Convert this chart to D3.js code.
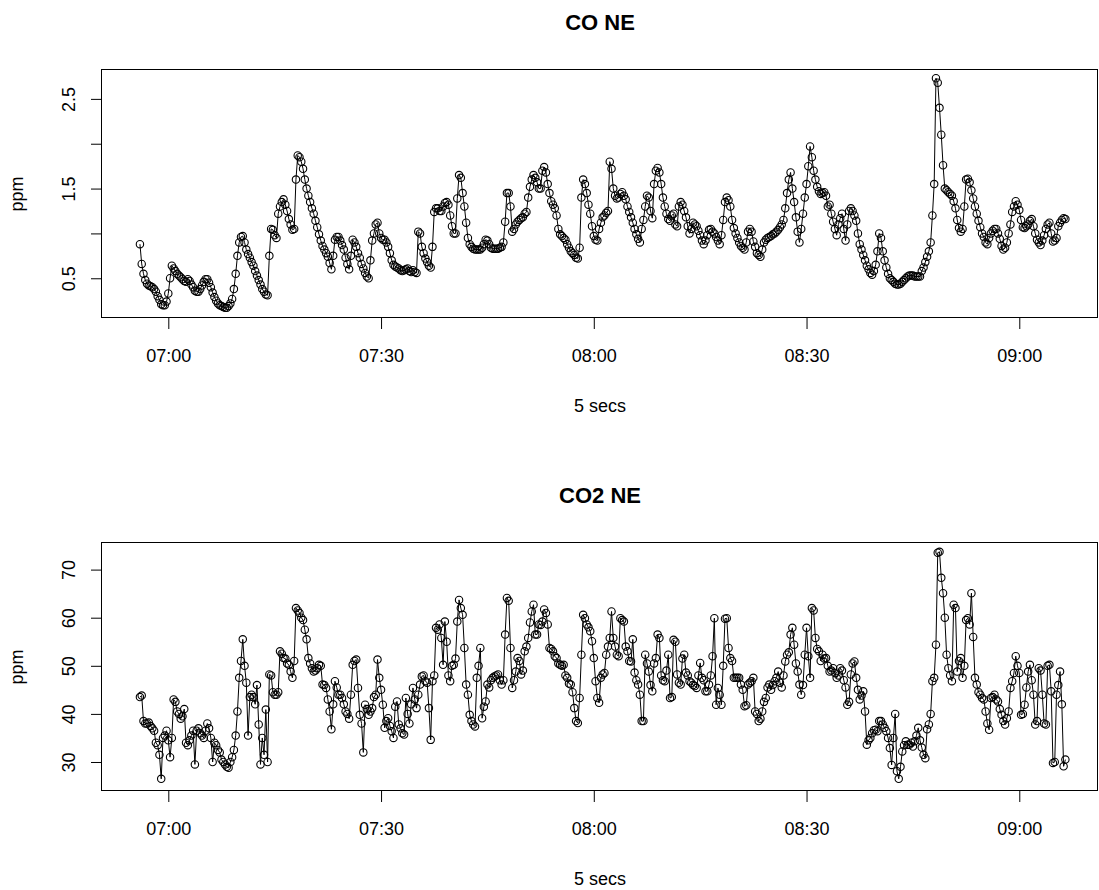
<!DOCTYPE html>
<html>
<head>
<meta charset="utf-8">
<script src="https://cdn.jsdelivr.net/npm/d3@7"></script>
<style>
body { margin: 0; background: #fff; }
svg text { font-family: "Liberation Sans", Arial, sans-serif; fill: #000; }
</style>
</head>
<body>
<svg id="chart" width="1099" height="890"></svg>
<script>

/*** DATA ***/

// one reading every 15 s, first one at 06:56:00 (two minutes per row)
var start_time = new Date(2000, 0, 1, 6, 56, 0),
    step_secs  = 15;

var co_ne = [
    0.88, 0.66, 0.55, 0.48, 0.44, 0.42, 0.41, 0.40,
    0.38, 0.35, 0.30, 0.26, 0.21, 0.20, 0.20, 0.24,
    0.33, 0.50, 0.64, 0.61, 0.58, 0.55, 0.53, 0.51,
    0.49, 0.47, 0.46, 0.49, 0.47, 0.43, 0.40, 0.36,
    0.35, 0.35, 0.38, 0.42, 0.46, 0.49, 0.49, 0.45,
    0.40, 0.34, 0.29, 0.25, 0.22, 0.20, 0.19, 0.18,
    0.17, 0.17, 0.19, 0.22, 0.27, 0.38, 0.55, 0.75,
    0.90, 0.96, 0.97, 0.90, 0.82, 0.77, 0.73, 0.68,
    0.64, 0.58, 0.53, 0.48, 0.43, 0.38, 0.35, 0.32,
    0.31, 0.75, 1.05, 1.04, 0.98, 0.95, 1.22, 1.30,
    1.35, 1.38, 1.32, 1.25, 1.16, 1.10, 1.04, 1.05,
    1.60, 1.87, 1.85, 1.80, 1.72, 1.60, 1.50, 1.42,
    1.35, 1.28, 1.22, 1.14, 1.07, 0.99, 0.92, 0.86,
    0.82, 0.78, 0.74, 0.67, 0.60, 0.75, 0.93, 0.96,
    0.96, 0.92, 0.87, 0.82, 0.73, 0.66, 0.60, 0.75,
    0.93, 0.90, 0.85, 0.78, 0.73, 0.66, 0.61, 0.56,
    0.52, 0.50, 0.70, 0.92, 1.00, 1.10, 1.12, 1.00,
    0.95, 0.93, 0.93, 0.90, 0.85, 0.78, 0.70, 0.65,
    0.63, 0.62, 0.61, 0.59, 0.58, 0.59, 0.60, 0.61,
    0.58, 0.57, 0.59, 0.57, 0.56, 1.02, 1.00, 0.85,
    0.78, 0.72, 0.68, 0.64, 0.62, 0.85, 1.24, 1.28,
    1.28, 1.25, 1.25, 1.30, 1.34, 1.35, 1.32, 1.20,
    1.08, 1.00, 1.00, 1.39, 1.65, 1.62, 1.45, 1.30,
    1.12, 0.95, 0.88, 0.85, 0.83, 0.82, 0.82, 0.82,
    0.82, 0.84, 0.88, 0.93, 0.92, 0.88, 0.84, 0.83,
    0.83, 0.83, 0.83, 0.84, 0.85, 0.90, 1.13, 1.45,
    1.45, 1.30, 1.02, 1.05, 1.10, 1.13, 1.15, 1.17,
    1.18, 1.22, 1.24, 1.40, 1.52, 1.60, 1.65, 1.62,
    1.57, 1.50, 1.50, 1.70, 1.74, 1.68, 1.55, 1.45,
    1.36, 1.32, 1.28, 1.20, 1.05, 0.99, 0.97, 0.95,
    0.93, 0.88, 0.84, 0.80, 0.78, 0.76, 0.73, 0.72,
    0.84, 1.40, 1.60, 1.55, 1.45, 1.32, 1.22, 1.08,
    0.97, 0.93, 0.92, 1.05, 1.12, 1.18, 1.20, 1.23,
    1.25, 1.80, 1.72, 1.50, 1.42, 1.39, 1.40, 1.44,
    1.46, 1.42, 1.38, 1.30, 1.24, 1.18, 1.12, 1.05,
    0.99, 0.94, 0.90, 1.05, 1.15, 1.30, 1.42, 1.40,
    1.25, 1.17, 1.55, 1.70, 1.73, 1.68, 1.55, 1.40,
    1.30, 1.22, 1.16, 1.14, 1.20, 1.22, 1.10, 1.08,
    1.30, 1.35, 1.32, 1.25, 1.18, 1.08, 1.00, 1.05,
    1.12, 1.10, 1.08, 1.03, 0.98, 0.92, 0.88, 0.92,
    0.98, 1.04, 1.05, 1.02, 1.00, 0.96, 0.92, 0.88,
    0.98, 1.15, 1.35, 1.40, 1.37, 1.30, 1.15, 1.06,
    1.00, 0.95, 0.90, 0.86, 0.84, 0.82, 0.90, 1.02,
    1.05, 1.02, 0.91, 0.85, 0.78, 0.76, 0.74, 0.82,
    0.90, 0.93, 0.95, 0.96, 0.97, 0.99, 1.00, 1.02,
    1.04, 1.07, 1.10, 1.15, 1.28, 1.45, 1.60, 1.68,
    1.50, 1.35, 1.18, 1.02, 0.90, 1.05, 1.22, 1.40,
    1.55, 1.75, 1.97, 1.85, 1.70, 1.60, 1.52, 1.47,
    1.44, 1.45, 1.46, 1.42, 1.30, 1.32, 1.22, 1.13,
    1.05, 0.98, 1.10, 1.17, 1.22, 1.05, 0.92, 1.10,
    1.25, 1.28, 1.25, 1.20, 1.14, 1.00, 0.88, 0.82,
    0.76, 0.70, 0.64, 0.60, 0.56, 0.54, 0.58, 0.65,
    0.80, 1.00, 0.95, 0.80, 0.70, 0.62, 0.55, 0.50,
    0.48, 0.46, 0.44, 0.43, 0.43, 0.44, 0.46, 0.48,
    0.50, 0.52, 0.53, 0.53, 0.53, 0.52, 0.52, 0.52,
    0.52, 0.58, 0.62, 0.68, 0.74, 0.80, 0.90, 1.20,
    1.55, 2.73, 2.68, 2.40, 2.10, 1.76, 1.50, 1.48,
    1.46, 1.44, 1.42, 1.36, 1.28, 1.15, 1.06, 1.02,
    1.05, 1.30, 1.60, 1.61, 1.57, 1.48, 1.39, 1.30,
    1.22, 1.14, 1.07, 1.00, 0.96, 0.90, 0.88, 0.95,
    1.00, 1.03, 1.05, 1.05, 1.00, 0.94, 0.86, 0.82,
    0.84, 0.90, 1.00, 1.10, 1.24, 1.30, 1.36, 1.32,
    1.26, 1.15, 1.07, 1.06, 1.08, 1.10, 1.14, 1.16,
    1.08, 1.00, 0.93, 0.90, 0.87, 0.92, 0.98, 1.05,
    1.10, 1.12, 1.00, 0.91, 0.92, 0.95, 1.08, 1.12,
    1.15, 1.17, 1.16
];

var co2_ne = [
    43.5, 43.8, 38.5, 38.0, 38.0, 38.2, 37.5, 37.0,
    36.5, 34.0, 33.5, 31.5, 26.5, 35.0, 35.5, 36.5,
    34.5, 31.0, 35.0, 43.0, 42.5, 40.5, 40.0, 39.0,
    39.5, 41.0, 34.0, 33.5, 34.5, 35.5, 36.5, 29.5,
    36.5, 37.0, 36.0, 35.5, 35.0, 36.5, 38.0, 37.0,
    35.0, 30.0, 34.0, 33.5, 32.5, 32.0, 30.5, 30.0,
    29.5, 29.0, 28.8, 30.0, 31.0, 32.5, 35.5, 40.5,
    47.5, 51.0, 55.5, 50.0, 46.5, 35.5, 43.5, 44.0,
    43.5, 42.0, 46.0, 37.8, 29.5, 35.0, 31.5, 40.9,
    30.0, 48.2, 48.0, 44.5, 44.0, 44.0, 44.5, 53.0,
    52.5, 51.6, 51.5, 50.5, 50.2, 48.8, 47.5, 51.0,
    62.0, 61.5, 61.0, 60.0, 59.5, 57.5, 55.5, 51.6,
    50.5, 49.5, 48.8, 49.0, 49.5, 50.2, 50.0, 46.1,
    46.0, 45.4, 43.0, 40.5, 36.8, 42.0, 46.8, 45.5,
    44.0, 44.0, 43.3, 42.0, 40.5, 40.0, 39.0, 44.0,
    50.2, 51.0, 51.3, 45.4, 39.8, 38.0, 32.0, 41.9,
    41.0, 39.8, 40.5, 41.2, 43.5, 44.0, 51.3, 47.5,
    45.0, 41.9, 37.1, 38.5, 39.1, 37.5, 36.4, 35.0,
    41.5, 42.6, 37.8, 37.0, 36.0, 35.7, 43.3, 40.0,
    38.0, 42.0, 45.4, 43.0, 41.2, 44.0, 46.1, 47.8,
    48.0, 46.8, 46.5, 41.2, 34.6, 46.8, 48.0, 57.9,
    57.5, 58.6, 55.8, 50.2, 59.2, 55.0, 48.0, 46.8,
    50.0, 50.2, 51.5, 59.2, 63.7, 62.0, 60.6, 53.7,
    46.1, 44.0, 39.8, 38.5, 37.8, 37.4, 47.5, 50.0,
    53.7, 39.1, 41.5, 42.6, 46.1, 45.5, 47.0, 47.5,
    47.8, 48.0, 48.2, 47.0, 46.1, 47.0, 56.5, 64.1,
    63.5, 53.7, 45.4, 47.0, 48.8, 51.6, 51.0, 48.2,
    49.0, 53.0, 54.0, 55.8, 59.0, 61.3, 62.7, 56.5,
    56.5, 58.6, 58.5, 59.2, 61.7, 61.0, 58.6, 53.7,
    53.5, 53.0, 52.0, 51.6, 50.5, 50.2, 50.0, 50.2,
    48.0, 47.5, 46.3, 46.1, 44.5, 41.2, 38.5, 38.1,
    43.3, 52.3, 60.6, 59.9, 58.6, 58.0, 57.2, 55.1,
    51.6, 46.8, 43.3, 42.3, 47.5, 48.2, 48.5, 52.3,
    54.0, 55.8, 61.3, 55.8, 54.0, 52.3, 52.0, 59.9,
    59.5, 59.2, 54.0, 53.0, 51.0, 50.9, 55.5, 48.6,
    47.0, 46.1, 44.0, 38.5, 38.5, 52.3, 50.5, 48.8,
    46.0, 44.7, 50.5, 51.6, 56.5, 55.8, 48.0, 47.0,
    46.8, 49.0, 52.3, 43.3, 43.5, 55.4, 55.0, 48.2,
    46.5, 46.1, 51.5, 52.3, 48.6, 48.0, 46.8, 46.5,
    46.0, 45.8, 45.4, 48.0, 50.6, 47.5, 47.0, 44.7,
    44.7, 46.1, 48.0, 52.0, 59.9, 41.9, 45.4, 44.0,
    41.9, 50.0, 59.8, 59.9, 53.7, 51.6, 51.0, 47.5,
    47.5, 47.5, 47.5, 46.1, 45.0, 41.6, 41.8, 46.1,
    46.5, 46.8, 47.5, 40.5, 40.0, 38.5, 39.0, 40.5,
    42.5, 43.3, 45.5, 46.1, 45.0, 46.0, 46.8, 47.5,
    48.8, 46.5, 45.5, 48.0, 50.9, 52.3, 52.8, 56.5,
    57.9, 54.4, 50.5, 48.8, 46.1, 44.0, 46.0, 52.3,
    57.9, 52.0, 47.5, 62.0, 61.5, 55.8, 53.5, 53.0,
    51.0, 52.3, 51.5, 51.6, 50.0, 48.8, 49.0, 49.5,
    48.5, 47.5, 48.0, 49.5, 49.0, 47.0, 45.5, 41.9,
    42.5, 48.2, 50.5, 50.9, 47.5, 45.0, 43.0, 43.8,
    44.7, 40.5, 33.6, 34.5, 35.0, 36.0, 36.6, 36.7,
    36.4, 38.5, 38.5, 37.8, 37.1, 36.4, 35.0, 32.9,
    29.4, 35.0, 40.0, 28.1, 26.5, 29.0, 32.2, 33.5,
    34.3, 33.6, 33.6, 34.0, 33.2, 34.3, 35.5, 37.1,
    34.5, 33.0, 31.5, 30.8, 36.8, 37.8, 40.0, 46.8,
    47.5, 54.4, 73.5, 73.7, 68.3, 65.1, 60.0, 52.3,
    49.5, 48.0, 46.8, 62.7, 62.0, 48.8, 51.0, 51.6,
    47.5, 50.0, 59.5, 59.9, 58.6, 65.1, 56.0, 47.5,
    46.1, 44.5, 44.0, 43.3, 43.0, 40.5, 38.0, 36.7,
    43.3, 43.5, 44.0, 43.0, 42.6, 41.0, 39.8, 38.5,
    37.8, 39.1, 40.5, 45.4, 46.8, 48.5, 52.0, 50.0,
    48.5, 39.8, 40.0, 41.9, 45.5, 48.8, 50.2, 47.0,
    44.0, 37.8, 38.5, 49.5, 49.0, 44.0, 38.0, 37.8,
    50.0, 50.2, 44.7, 29.8, 30.0, 44.0, 46.0, 48.8,
    42.0, 29.1, 30.5
];

var x_tick_labels = ["07:00", "07:30", "08:00", "08:30", "09:00"];
var co_ticks      = [0.5, 1.0, 1.5, 2.0, 2.5],
    co_tick_text  = [0.5, 1.5, 2.5];
var co2_ticks     = [30, 40, 50, 60, 70],
    co2_tick_text = [30, 40, 50, 60, 70];

/*** LAYOUT ***/

var svg = d3.select('#chart');

var box = {left: 102, right: 1098, height: 248},
    panel_tops = [70, 543];

var font_size = 18;

function parse_hm(s) {
    var p = s.split(':');
    return new Date(2000, 0, 1, +p[0], +p[1], 0);
}

// x limits as in the picture (R pads the data range)
var x = d3.scaleTime()
    .domain([new Date(2000, 0, 1, 6, 50, 39), new Date(2000, 0, 1, 9, 11, 6)])
    .range([box.left, box.right]);

function sample_time(i) {
    return new Date(start_time.getTime() + i * step_secs * 1000);
}

/*** DRAW ***/

function render_panel(top, values, title, y_lim, y_ticks, y_text) {
    var g = svg.append('g');

    var y = d3.scaleLinear()
        .domain(y_lim)
        .range([top + box.height, top]);

    // title
    g.append('text')
        .attr('x', (box.left + box.right) / 2)
        .attr('y', top - 40.5)
        .attr('text-anchor', 'middle')
        .style('font-size', '22px')
        .style('font-weight', 'bold')
        .text(title);

    // x axis
    var x_axis = g.append('g')
        .attr('transform', `translate(0, ${top + box.height})`)
        .call(d3.axisBottom(x)
                .tickValues(x_tick_labels.map(parse_hm))
                .tickFormat(d3.timeFormat('%H:%M'))
                .tickSize(11));
    x_axis.select('.domain').remove();
    x_axis.selectAll('line').attr('stroke', '#000');
    x_axis.selectAll('text')
        .attr('y', 44)
        .attr('dy', null)
        .style('font-size', font_size + 'px')
        .style('font-family', '"Liberation Sans", Arial, sans-serif');

    // y axis
    var y_axis = g.append('g')
        .attr('transform', `translate(${box.left}, 0)`)
        .call(d3.axisLeft(y)
                .tickValues(y_ticks)
                .tickFormat(function(d) { return y_text.indexOf(d) >= 0 ? d3.format('.1~f')(d) : ''; })
                .tickSize(11));
    y_axis.select('.domain').remove();
    y_axis.selectAll('line').attr('stroke', '#000');
    y_axis.selectAll('text')
        .attr('x', null)
        .attr('dy', null)
        .attr('text-anchor', 'middle')
        .attr('transform', 'translate(-27, 0) rotate(-90)')
        .style('font-size', font_size + 'px')
        .style('font-family', '"Liberation Sans", Arial, sans-serif');

    // axis titles
    g.append('text')
        .attr('x', (box.left + box.right) / 2)
        .attr('y', top + box.height + 94)
        .attr('text-anchor', 'middle')
        .style('font-size', font_size + 'px')
        .text('5 secs');

    g.append('text')
        .attr('transform', `translate(23, ${top + box.height / 2}) rotate(-90)`)
        .attr('text-anchor', 'middle')
        .style('font-size', font_size + 'px')
        .text('ppm');

    // data: line and open circles
    var line = d3.line()
        .x(function(d, i) { return x(sample_time(i)); })
        .y(function(d) { return y(d); });

    g.append('path')
        .datum(values)
        .attr('d', line)
        .attr('fill', 'none')
        .attr('stroke', '#000')
        .attr('stroke-width', 1);

    g.selectAll('circle.pt')
        .data(values)
        .enter().append('circle')
        .attr('class', 'pt')
        .attr('cx', function(d, i) { return x(sample_time(i)); })
        .attr('cy', function(d) { return y(d); })
        .attr('r', 3.7)
        .attr('fill', 'none')
        .attr('stroke', '#000')
        .attr('stroke-width', 1.1);

    // plot box
    g.append('rect')
        .attr('x', box.left - 0.5)
        .attr('y', top - 0.5)
        .attr('width', box.right - box.left)
        .attr('height', box.height)
        .attr('fill', 'none')
        .attr('stroke', '#000')
        .attr('stroke-width', 1);
}

render_panel(panel_tops[0], co_ne, 'CO NE', [0.057, 2.822], co_ticks, co_tick_text);
render_panel(panel_tops[1], co2_ne, 'CO2 NE', [23.97, 75.53], co2_ticks, co2_tick_text);

</script>
</body>
</html>
